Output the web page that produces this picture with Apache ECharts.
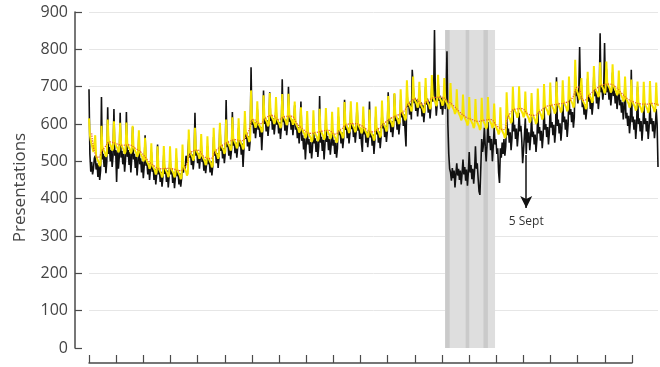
<!DOCTYPE html>
<html>
<head>
<meta charset="utf-8">
<script src="https://cdn.jsdelivr.net/npm/echarts@6/dist/echarts.min.js"></script>
<style>
  html, body { margin: 0; padding: 0; background: #fff; }
  #chart { width: 660px; height: 367px; }
</style>
</head>
<body>
<div id="chart"></div>
<script>
// Daily presentations (black) against the expected weekly pattern (yellow)
// and its smoothed trend (red dotted). One row per week.
const actual = [
  693, 520, 472, 498, 465, 480, 508,
  515, 478, 495, 458, 490, 450, 475,
  672, 505, 520, 485, 515, 468, 500,
  645, 520, 538, 500, 530, 485, 515,
  640, 515, 530, 445, 528, 480, 512,
  630, 510, 528, 492, 520, 472, 505,
  632, 512, 530, 490, 525, 470, 508,
  592, 505, 520, 482, 512, 462, 498,
  575, 492, 508, 470, 500, 455, 488,
  570, 488, 500, 465, 495, 450, 480,
  525, 472, 488, 450, 480, 438, 465,
  545, 465, 480, 445, 472, 432, 458,
  520, 466, 482, 445, 475, 430, 460,
  515, 465, 480, 442, 470, 428, 458,
  510, 460, 475, 438, 468, 432, 455,
  500, 470, 490, 478, 515, 495, 520,
  560, 510, 525, 490, 518, 478, 505,
  630, 515, 530, 495, 522, 480, 510,
  545, 498, 512, 475, 505, 468, 492,
  540, 492, 505, 470, 500, 462, 488,
  565, 515, 530, 495, 522, 482, 510,
  600, 528, 545, 508, 535, 495, 522,
  664, 538, 552, 515, 545, 505, 530,
  632, 542, 558, 522, 550, 510, 538,
  590, 540, 555, 518, 548, 485, 535,
  610, 560, 575, 540, 568, 528, 555,
  752, 598, 612, 575, 605, 562, 590,
  640, 585, 600, 565, 592, 530, 580,
  690, 600, 618, 580, 610, 568, 595,
  685, 608, 622, 585, 615, 572, 600,
  645, 598, 612, 575, 605, 560, 590,
  720, 605, 620, 582, 612, 570, 598,
  700, 606, 620, 585, 612, 570, 600,
  650, 585, 600, 562, 592, 548, 578,
  660, 555, 570, 532, 562, 505, 548,
  595, 545, 560, 522, 552, 508, 538,
  600, 548, 562, 525, 555, 512, 540,
  675, 550, 566, 528, 558, 505, 545,
  620, 552, 568, 530, 560, 518, 545,
  600, 542, 558, 520, 550, 510, 535,
  620, 570, 585, 548, 578, 535, 562,
  665, 584, 598, 562, 590, 548, 575,
  640, 586, 600, 565, 592, 550, 578,
  655, 582, 598, 560, 590, 548, 525,
  615, 572, 588, 550, 580, 538, 565,
  660, 564, 578, 542, 572, 520, 555,
  620, 572, 588, 550, 580, 535, 565,
  635, 588, 602, 565, 595, 552, 580,
  685, 600, 615, 578, 608, 565, 592,
  680, 608, 622, 585, 615, 572, 600,
  665, 618, 632, 595, 625, 580, 540,
  690, 646, 660, 625, 655, 612, 745,
  705, 656, 670, 635, 665, 620, 648,
  690, 642, 658, 620, 650, 605, 635,
  700, 652, 668, 630, 660, 615, 645,
  705, 660, 675, 852, 668, 622, 652,
  720, 662, 676, 640, 670, 625, 655,
  700, 640, 665, 795, 600, 520, 480,
  470, 448, 482, 455, 475, 430, 465,
  495, 462, 480, 450, 475, 438, 468,
  505, 465, 485, 448, 478, 435, 470,
  525, 470, 490, 452, 480, 440, 475,
  540, 480, 495, 455, 420, 410, 482,
  560, 525, 545, 590, 540, 500, 545,
  605, 550, 568, 530, 560, 500, 540,
  590, 545, 560, 520, 535, 470, 442,
  535, 510, 550, 520, 560, 515, 540,
  625, 570, 588, 550, 578, 530, 562,
  645, 580, 598, 560, 588, 540, 572,
  630, 580, 595, 558, 495, 530, 570,
  615, 520, 588, 550, 578, 530, 562,
  620, 565, 580, 545, 572, 525, 558,
  635, 575, 592, 555, 582, 535, 568,
  645, 585, 600, 565, 592, 545, 578,
  652, 590, 605, 570, 598, 550, 582,
  725, 595, 612, 575, 602, 555, 588,
  665, 605, 620, 585, 612, 565, 598,
  680, 625, 640, 605, 632, 590, 618,
  735, 675, 690, 655, 682, 806, 668,
  705, 645, 660, 625, 652, 612, 638,
  722, 660, 675, 640, 668, 625, 652,
  738, 675, 690, 655, 682, 640, 668,
  843, 685, 700, 665, 692, 817, 678,
  748, 685, 700, 665, 692, 650, 678,
  738, 675, 690, 655, 682, 640, 668,
  712, 650, 665, 630, 658, 612, 642,
  720, 615, 630, 595, 622, 575, 608,
  745, 605, 620, 585, 612, 560, 598,
  700, 600, 615, 580, 608, 555, 592,
  655, 600, 615, 580, 608, 560, 592,
  660, 600, 615, 580, 608, 562, 592,
  640, 600, 485
];

const expected = [
  615, 570, 555, 545, 535, 525, 528,
  570, 515, 507, 503, 497, 487, 493,
  595, 540, 532, 528, 522, 512, 518,
  612, 557, 549, 545, 539, 529, 535,
  607, 552, 544, 540, 534, 524, 530,
  603, 548, 540, 536, 530, 520, 526,
  604, 549, 541, 537, 531, 521, 527,
  595, 540, 532, 528, 522, 512, 518,
  583, 528, 520, 516, 510, 500, 506,
  563, 508, 500, 496, 490, 480, 486,
  548, 493, 485, 481, 475, 465, 471,
  540, 485, 477, 473, 467, 457, 463,
  541, 486, 478, 474, 468, 458, 464,
  540, 485, 477, 473, 467, 457, 463,
  535, 480, 472, 468, 462, 452, 458,
  545, 490, 482, 478, 472, 462, 468,
  585, 530, 522, 518, 512, 502, 508,
  590, 535, 527, 523, 517, 507, 513,
  573, 518, 510, 506, 500, 490, 496,
  567, 512, 504, 500, 494, 484, 490,
  590, 535, 527, 523, 517, 507, 513,
  603, 548, 540, 536, 530, 520, 526,
  612, 557, 549, 545, 539, 529, 535,
  618, 563, 555, 551, 545, 535, 541,
  615, 560, 552, 548, 542, 532, 538,
  635, 580, 572, 568, 562, 552, 558,
  690, 618, 610, 606, 600, 590, 596,
  661, 606, 598, 594, 588, 578, 584,
  677, 622, 614, 610, 604, 594, 600,
  683, 628, 620, 616, 610, 600, 606,
  672, 617, 609, 605, 599, 589, 595,
  680, 625, 617, 613, 607, 597, 603,
  681, 626, 618, 614, 608, 598, 604,
  660, 605, 597, 593, 587, 577, 583,
  645, 590, 582, 578, 572, 562, 568,
  635, 580, 572, 568, 562, 552, 558,
  637, 582, 574, 570, 564, 554, 560,
  641, 586, 578, 574, 568, 558, 564,
  643, 588, 580, 576, 570, 560, 566,
  633, 578, 570, 566, 560, 550, 556,
  645, 590, 582, 578, 572, 562, 568,
  659, 604, 596, 592, 586, 576, 582,
  661, 606, 598, 594, 588, 578, 584,
  658, 603, 595, 591, 585, 575, 581,
  647, 592, 584, 580, 574, 564, 570,
  639, 584, 576, 572, 566, 556, 562,
  647, 592, 584, 580, 574, 564, 570,
  663, 608, 600, 596, 590, 580, 586,
  675, 620, 612, 608, 602, 592, 598,
  683, 628, 620, 616, 610, 600, 606,
  693, 638, 630, 626, 620, 610, 616,
  717, 662, 654, 650, 644, 634, 640,
  727, 672, 664, 660, 654, 644, 650,
  713, 658, 650, 646, 640, 630, 636,
  723, 668, 660, 656, 650, 640, 646,
  731, 676, 668, 664, 658, 648, 654,
  732, 677, 669, 665, 659, 649, 655,
  723, 668, 660, 656, 650, 640, 646,
  710, 655, 647, 643, 637, 627, 633,
  693, 638, 630, 626, 620, 610, 616,
  679, 624, 616, 612, 606, 596, 602,
  672, 617, 609, 605, 599, 589, 595,
  667, 612, 604, 600, 594, 584, 590,
  670, 615, 607, 603, 597, 587, 593,
  672, 617, 609, 605, 599, 589, 595,
  655, 600, 592, 588, 582, 572, 578,
  645, 590, 582, 578, 572, 562, 568,
  685, 630, 622, 618, 612, 602, 608,
  700, 645, 637, 633, 627, 617, 623,
  701, 646, 638, 634, 628, 618, 624,
  687, 632, 624, 620, 614, 604, 610,
  683, 628, 620, 616, 610, 600, 606,
  695, 640, 632, 628, 622, 612, 618,
  707, 652, 644, 640, 634, 624, 630,
  711, 656, 648, 644, 638, 628, 634,
  714, 659, 651, 647, 641, 631, 637,
  717, 662, 654, 650, 644, 634, 640,
  727, 672, 664, 660, 654, 644, 650,
  772, 700, 688, 682, 674, 664, 662,
  723, 668, 660, 656, 650, 640, 646,
  740, 685, 677, 673, 667, 657, 663,
  755, 700, 692, 688, 682, 672, 678,
  765, 710, 702, 698, 692, 682, 688,
  767, 712, 704, 700, 694, 684, 690,
  760, 705, 697, 693, 687, 677, 683,
  743, 688, 680, 676, 670, 660, 666,
  727, 672, 664, 660, 654, 644, 650,
  719, 664, 656, 652, 646, 636, 642,
  714, 659, 651, 647, 641, 631, 637,
  713, 658, 650, 646, 640, 630, 636,
  715, 660, 652, 648, 642, 632, 638,
  711, 656, 648
];

// smoothed expected level, one value per week (mid-week)
const trend = [
  575, 510, 535, 552, 547, 543, 544, 535, 523, 503,
  488, 480, 481, 480, 475, 485, 525, 530, 513, 507,
  530, 543, 552, 558, 555, 575, 612, 601, 617, 623,
  612, 620, 621, 600, 585, 575, 577, 581, 583, 573,
  585, 599, 601, 598, 587, 579, 587, 603, 615, 623,
  633, 657, 667, 653, 663, 671, 672, 663, 650, 633,
  619, 612, 607, 610, 612, 595, 585, 625, 640, 641,
  627, 623, 635, 647, 651, 654, 657, 667, 700, 663,
  680, 695, 705, 707, 700, 683, 667, 659, 654, 653,
  655, 651
];

// month ticks along the bottom axis (labels not shown)
const monthTicks = ['May', 'Jun', 'Jul', 'Aug', 'Sep', 'Oct', 'Nov', 'Dec', 'Jan', 'Feb', 'Mar',
  'Apr', 'May', 'Jun', 'Jul', 'Aug', 'Sep', 'Oct', 'Nov', 'Dec', 'Jan'];

// shaded period (day index) and its darker sub-bands
const shadeStart = 400, shadeEnd = 456, shadeTop = 852;
const shadeBands = [[400, 405], [423, 427], [443, 448]];

// "5 Sept" marker: day index, arrow from/to values
const markerDay = 491, markerFrom = 517, markerTo = 375;

const FONT = "'Open Sans', 'DejaVu Sans', sans-serif";
const AXIS = '#4a4a4a';

const chart = echarts.init(document.getElementById('chart'));

chart.setOption({
  animation: false,
  grid: [
    { left: 89, right: 2, top: 12, bottom: 19 },
    { left: 89, right: 28, top: 350, bottom: 4 }
  ],
  xAxis: [
    { type: 'value', gridIndex: 0, min: 0, max: actual.length - 1, show: false },
    {
      type: 'category', gridIndex: 1, data: monthTicks, boundaryGap: false,
      axisLine: { onZero: false, lineStyle: { color: AXIS, width: 1.5 } },
      axisTick: { inside: true, length: 8, interval: 0, lineStyle: { color: AXIS, width: 1.2 } },
      axisLabel: { show: false },
      splitLine: { show: false }
    }
  ],
  yAxis: [
    {
      type: 'value', gridIndex: 0, min: 0, max: 900, interval: 100, offset: 14,
      name: 'Presentations', nameLocation: 'middle', nameGap: 46, nameMoveOverlap: false,
      nameTextStyle: { fontFamily: FONT, fontSize: 17, color: '#444', padding: [0, 15, 0, 0] },
      axisLine: { show: true, onZero: false, lineStyle: { color: AXIS, width: 1.5 } },
      axisTick: { show: true, inside: true, length: 7, lineStyle: { color: AXIS, width: 1.2 } },
      axisLabel: { fontFamily: FONT, fontSize: 16, color: '#444', margin: 7 },
      splitLine: { show: true, showMinLine: false, lineStyle: { color: '#e6e6e6', width: 1 } }
    },
    { type: 'value', gridIndex: 1, show: false }
  ],
  series: [
    {
      name: 'shade', type: 'line', data: [], z: 1,
      markArea: {
        silent: true,
        data: [
          [{ xAxis: shadeStart, yAxis: 0, itemStyle: { color: '#dedede' } }, { xAxis: shadeEnd, yAxis: shadeTop }],
          ...shadeBands.map(b => [{ xAxis: b[0], yAxis: 0, itemStyle: { color: '#cacaca' } }, { xAxis: b[1], yAxis: shadeTop }])
        ]
      }
    },
    {
      name: 'Actual', type: 'line', z: 2, showSymbol: false, symbol: 'none',
      data: actual.map((v, i) => [i, v]),
      lineStyle: { color: '#111', width: 1.6 }
    },
    {
      name: 'Expected', type: 'line', z: 3, showSymbol: false, symbol: 'none',
      data: expected.map((v, i) => [i, v]),
      lineStyle: { color: '#f6e500', width: 2 }
    },
    {
      name: 'Trend', type: 'line', z: 4, showSymbol: false, symbol: 'none', smooth: true,
      data: trend.map((v, w) => [w * 7 + 3, v]),
      lineStyle: { color: '#e4572e', width: 1.2, type: 'dotted' }
    },
    {
      name: 'marker', type: 'line', data: [], z: 5,
      markLine: {
        silent: true,
        symbol: ['none', 'arrow'],
        symbolSize: [9, 12],
        lineStyle: { color: '#111', width: 1.5, type: 'solid' },
        label: { show: true, position: 'end', formatter: '5 Sept', fontFamily: FONT, fontSize: 12, color: '#333', distance: 8 },
        data: [[{ coord: [markerDay, markerFrom] }, { coord: [markerDay, markerTo] }]]
      }
    }
  ]
});
</script>
</body>
</html>
